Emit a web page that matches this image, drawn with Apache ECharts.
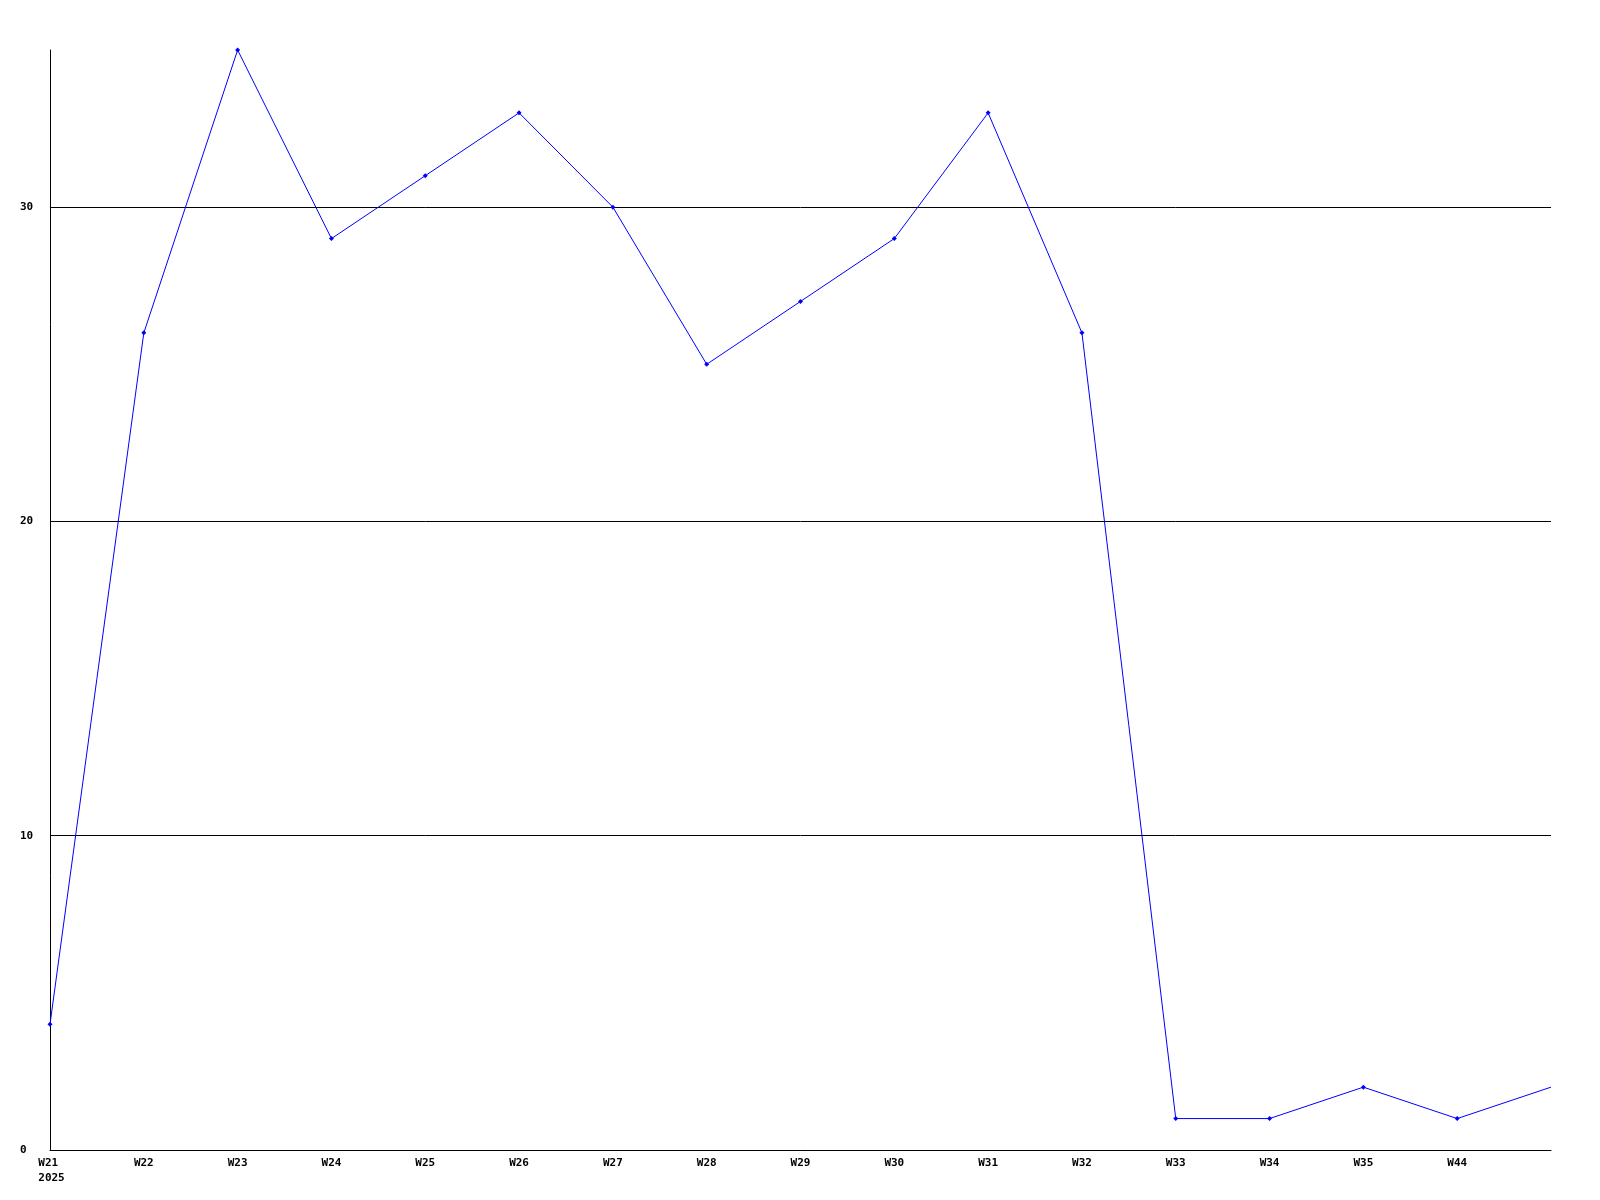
<!DOCTYPE html>
<html>
<head>
<meta charset="utf-8">
<script src="https://cdn.jsdelivr.net/npm/echarts@6/dist/echarts.min.js"></script>
<style>html,body{margin:0;padding:0;background:#fff;}#c{width:1600px;height:1200px;}</style>
</head>
<body>
<div id="c"></div>
<script>
const categories = ['W21','W22','W23','W24','W25','W26','W27','W28','W29','W30','W31','W32','W33','W34','W35','W44',''];
const values = [4,26,35,29,31,33,30,25,27,29,33,26,1,1,2,1,2];
const yearLabel = '2025';
const yTicks = [0,10,20,30];

const font = 'DejaVu Sans Mono';
const chart = echarts.init(document.getElementById('c'), null, {renderer:'canvas'});
const last = values.length - 1;
chart.setOption({
  animation: false,
  backgroundColor: '#ffffff',
  grid: {left: 50, right: 49, top: 50, bottom: 50, containLabel: false},
  xAxis: {
    type: 'category',
    data: categories,
    boundaryGap: false,
    axisLine: {show: true, lineStyle: {color: '#000', width: 1}},
    axisTick: {show: false},
    splitLine: {show: false},
    axisLabel: {
      margin: 6,
      interval: 0,
      color: '#000',
      fontFamily: font,
      fontWeight: 'bold',
      fontSize: 11,
      lineHeight: 15,
      formatter: function (v, i) {
        if (i === 0) return '{a|' + v + '}\n{b|' + yearLabel + '}';
        return v;
      },
      rich: {
        a: {fontFamily: font, fontWeight: 'bold', fontSize: 11, color: '#000', lineHeight: 15, align: 'left', padding: [0,0,0,3]},
        b: {fontFamily: font, fontWeight: 'bold', fontSize: 11, color: '#000', lineHeight: 15, align: 'left', padding: [0,0,0,3]}
      }
    }
  },
  yAxis: {
    type: 'value',
    min: 0,
    max: 35,
    interval: 10,
    axisLine: {show: true, lineStyle: {color: '#000', width: 1}},
    axisTick: {show: false},
    axisLabel: {
      margin: 30,
      align: 'left',
      color: '#000',
      fontFamily: font,
      fontWeight: 'bold',
      fontSize: 11,
      showMaxLabel: false,
      formatter: function (v) { return yTicks.indexOf(v) >= 0 ? String(v) : ''; }
    },
    splitLine: {show: true, lineStyle: {color: ['#000','#000','#000','#000','rgba(0,0,0,0)'], width: 1}}
  },
  series: [{
    type: 'line',
    data: values.map(function (v, i) { return i === last ? {value: v, symbol: 'none'} : v; }),
    symbol: 'diamond',
    symbolSize: 5,
    showAllSymbol: true,
    lineStyle: {color: '#0000ff', width: 1},
    itemStyle: {color: '#0000ff'},
    clip: false
  }]
});
</script>
</body>
</html>
